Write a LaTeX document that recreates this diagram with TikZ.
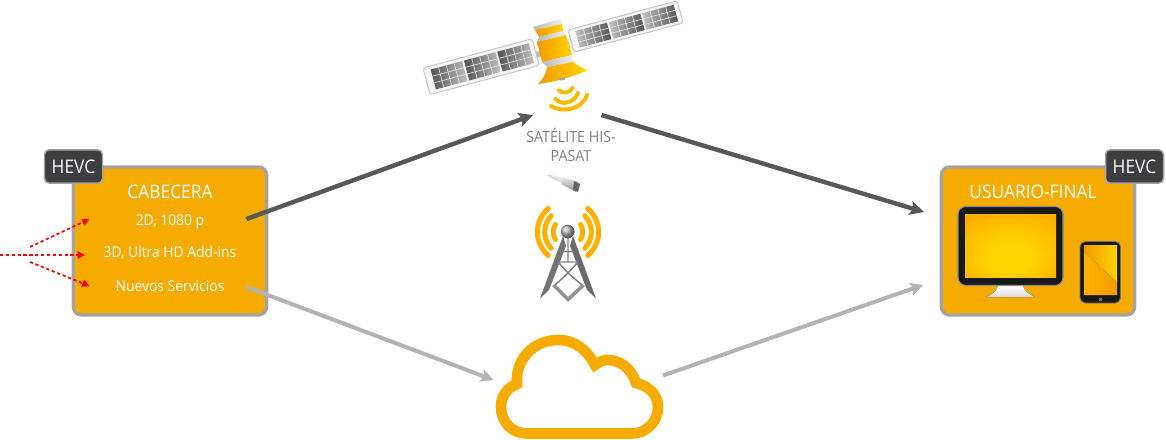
\documentclass[tikz,border=0pt]{standalone}
\usepackage{fontspec}
\setmainfont[FakeStretch=0.93]{Open Sans}
\usetikzlibrary{arrows.meta,calc}
\definecolor{boxorange}{HTML}{F6AB00}
\definecolor{boxedge}{HTML}{A3A3A3}
\definecolor{tabdark}{HTML}{3E3E40}
\definecolor{darkarrow}{HTML}{58585A}
\definecolor{lightarrow}{HTML}{B3B3B3}
\definecolor{capgray}{HTML}{7F7F7F}
\definecolor{goldA}{HTML}{F29A00}
\definecolor{goldB}{HTML}{FFD400}
\definecolor{goldC}{HTML}{FFB400}
\definecolor{sigTop}{HTML}{FFB000}
\definecolor{sigMid}{HTML}{F39400}
\pgfdeclareradialshading{screenglow}{\pgfpoint{0bp}{-14bp}}{color(0bp)=(goldB); color(12bp)=(goldB); color(32bp)=(goldC); color(50bp)=(goldA)}
\tikzset{
  mainbox/.style={draw=boxedge,line width=2.4pt,fill=boxorange,rounded corners=6pt,minimum width=145pt,minimum height=111pt,inner sep=0pt,outer sep=0pt},
  tab/.style={draw=boxedge,line width=1.1pt,fill=tabdark,rounded corners=3.5pt,minimum width=43.5pt,minimum height=25pt,inner sep=0pt,text=white,font=\fontsize{14}{16}\selectfont},
  title/.style={text=white,inner sep=0pt,anchor=base,font=\fontsize{14}{16}\selectfont},
  item/.style={text=white,inner sep=0pt,anchor=base,font=\fontsize{11.2}{13}\selectfont},
  caption/.style={text=capgray,inner sep=0pt,align=center,font=\fontsize{11.5}{14.25}\selectfont},
  darklink/.style={draw=darkarrow,line width=3.3pt,-{Stealth[length=10.5pt,width=10.5pt,inset=2pt]}},
  lightlink/.style={draw=lightarrow,line width=3pt,-{Stealth[length=9.5pt,width=9.5pt,inset=2pt]}},
  redlink/.style={draw=red,line width=1.3pt,dash pattern=on 2.4pt off 2pt,-{Triangle[length=5.5pt,width=5.5pt]}},
  wave/.style={draw=boxorange!85!yellow,line width=3pt,line cap=round},
  cloudline/.style={draw=boxorange,line width=8pt,line join=miter,miter limit=10},
  lattice/.style={draw=black!50,line width=1.1pt,line join=round}
}
% solar panel: #1 origin, #2 height, #3 left colour, #4 right colour, #5 cell inset
\newcommand{\solarpanel}[5]{%
  \begin{scope}[shift={#1},rotate=15]
    \draw[draw=black!22,line width=.8pt,fill=black!4,rounded corners=2pt] (0,0) rectangle (113,#2);
    \foreach \gx in {7,41.5,76}{
      \shade[left color=#3,right color=#4] (\gx,#5) rectangle ++(32.5,{#2-2*#5});
      \foreach \i in {1,2,3}
        \draw[black!12,line width=.5pt] ({\gx+\i*8.1},#5) -- ++(0,{#2-2*#5});
      \foreach \i in {1,2}
        \draw[black!12,line width=.5pt] (\gx,{#5+\i*(#2-2*#5)/3}) -- ++(32.5,0);
    }
  \end{scope}}
% signal arc pair round the mast: #1 half span in degrees, #2 radius in pt
\newcommand{\signalpair}[2]{%
  \shade[top color=sigTop,middle color=sigMid,bottom color=sigTop]
    ($(568,232)+(#1:#2pt+1.9pt)$) arc[start angle=#1,end angle=-#1,radius=#2pt+1.9pt]
    arc[start angle=-#1,delta angle=-180,radius=1.9pt]
    arc[start angle=-#1,end angle=#1,radius=#2pt-1.9pt]
    arc[start angle=#1+180,delta angle=-180,radius=1.9pt] -- cycle;
  \shade[top color=sigTop,middle color=sigMid,bottom color=sigTop]
    ($(568,232)+(180-#1:#2pt+1.9pt)$) arc[start angle=180-#1,end angle=180+#1,radius=#2pt+1.9pt]
    arc[start angle=180+#1,delta angle=180,radius=1.9pt]
    arc[start angle=180+#1,end angle=180-#1,radius=#2pt-1.9pt]
    arc[start angle=-#1,delta angle=180,radius=1.9pt] -- cycle;}
\begin{document}
\begin{tikzpicture}[x=.75pt,y=-.75pt]
\useasboundingbox (0,0) rectangle (1166,439);
% ---- main boxes
\node[mainbox] (cab) at (170,241) {};
\node[tab] (hevcL) at (73.5,166.5) {HEVC};
\node[mainbox] (usr) at (1038,241) {};
\node[tab] (hevcR) at (1134.5,166.5) {HEVC};
\node[title] (cabT) at (170,198) {CABECERA};
\node[item] (i1) at (170,225) {2D, 1080 p};
\node[item] (i2) at (170,257.7) {3D, Ultra HD Add-ins};
\node[item] (i3) at (170,291) {Nuevos Servicios};
\node[title] (usrT) at (1033,198) {USUARIO-FINAL};
% ---- monitor
\fill[top color=white,bottom color=black!15] (998,286) -- (1023,286) .. controls (1024,291) and (1030,295) .. (1035,297) -- (986,297) .. controls (991,295) and (997,291) .. (998,286) -- cycle;
\draw[draw=black!45,line width=.8pt,fill=black!90,rounded corners=6pt] (958,206.5) rectangle (1063,285.5);
\shade[shading=screenglow] (965,214) rectangle (1056,277);
% ---- tablet
\draw[draw=black!55,line width=.7pt,fill=black!90,rounded corners=4pt] (1080,241.5) rectangle (1120.5,303);
\shade[left color=goldA,right color=goldB] (1084,245) -- (1117,245) -- (1117,282) -- (1084,252) -- cycle;
\shade[left color=goldC,right color=goldA] (1084,252) -- (1117,282) -- (1117,295) -- (1084,295) -- cycle;
\fill[black!60] (1100.5,299.5) circle[radius=2];
% ---- satellite
\solarpanel{(423,68)}{27.5}{black!68}{black!24}{3.5}
\solarpanel{(568,30)}{23}{black!24}{black!68}{3}
\fill[black!25] (536,52) -- (543,50) -- (543,56) -- (537,58) -- cycle;
\fill[black!25] (561,44) -- (569,42) -- (570,48) -- (563,50) -- cycle;
\shade[left color=black!28,right color=black!6] (533,27) -- (560,19) -- (562,24) -- (535,30) -- cycle;
\shade[left color=goldA,right color=goldB] (535,30) -- (562,24) -- (563,31) -- (539,37) -- cycle;
\shade[left color=black!28,right color=black!6] (539,37) -- (563,31) -- (566,35) -- (537,42) -- cycle;
\shade[left color=goldA,right color=goldB] (537,42) -- (566,35) -- (572,55) -- (542,62) -- cycle;
\shade[left color=black!28,right color=black!6] (542,62) -- (572,55) -- (573,62) -- (547,67) -- cycle;
\shade[left color=goldA,right color=goldB] (547,67) -- (573,62) .. controls (578,66) and (583,68) .. (587,70.5) .. controls (572,77) and (555,82) .. (538,84) .. controls (543,79) and (546,74) .. (547,67) -- cycle;
\fill[black!35] (559,78.5) -- (565,77) -- (565,80) -- (560,80.5) -- cycle;
% ---- dish waves
\draw[wave] (559,90.5) .. controls (563,94) and (570,93) .. (572.5,88);
\draw[wave] (555.5,99) .. controls (562,106) and (574,103) .. (578,93);
\draw[wave] (551,106) .. controls (562,113) and (582,110) .. (587,95);
\node[caption] (satT) at (571,145) {SATÉLITE HIS-\\PASAT};
% ---- cable connector
\shade[left color=white,right color=black!30,shading angle=-25] (547,174.5) -- (566,178) -- (564,184) -- (549,177) -- cycle;
\shade[top color=black!8,bottom color=black!45] (564,177) -- (578,182) -- (576,192) -- (561,184) -- cycle;
\fill[black!60] (574,181) -- (580,184) -- (578,192) -- (573,190) -- cycle;
% ---- tower
\signalpair{31}{11}
\signalpair{44}{17.5}
\signalpair{50}{23}
\fill[black!55] (563,236) -- (540,298.5) -- (549,290) -- (566,246) -- cycle;
\fill[black!58] (573,236) -- (596,298.5) -- (587,290) -- (570,246) -- cycle;
\draw[lattice] (561.5,251.7) -- (574.5,251.7) (558,262) -- (578,262) (558,262) -- (568,273) -- (578,262) (568,238) -- (568,262);
\draw[lattice] (568,273) -- (555,285) (568,273) -- (582,285);
\fill[black!42] (552,286) -- (568,302) -- (585,286) -- (582,284) -- (568,297) -- (555,284) -- cycle;
\shade[ball color=black!30] (567.7,231.5) circle[radius=6.8];
% ---- cloud
\draw[cloudline] (517,384) .. controls (515,360) and (533,340) .. (558,340) .. controls (575,340) and (587,350) .. (595,365) .. controls (599,362) and (603,360) .. (608,360) .. controls (620,360) and (632,369) .. (636,383) .. controls (650,386) and (658,396) .. (658,407) .. controls (658,422) and (646,433.5) .. (632,433.5) -- (527,433.5) .. controls (512,433.5) and (501,422) .. (501,407) .. controls (501,396) and (507,388) .. (517,384) -- cycle;
% ---- connectors
\coordinate (a1s) at (246.5,219);
\coordinate (a1e) at (533,115);
\coordinate (a2s) at (601.5,115);
\coordinate (a2e) at (924,212);
\coordinate (a3s) at (246.5,287);
\coordinate (a3e) at (493.5,380);
\coordinate (a4s) at (663,375.5);
\coordinate (a4e) at (923,285);
\draw[darklink] (a1s) -- (a1e);
\draw[darklink] (a2s) -- (a2e);
\draw[lightlink] (a3s) -- (a3e);
\draw[lightlink] (a4s) -- (a4e);
\coordinate (r0) at (0,255);
\coordinate (r1) at (85,255);
\coordinate (r2s) at (30,247);
\coordinate (r2e) at (89.5,219);
\coordinate (r3s) at (30,262);
\coordinate (r3e) at (89.5,286);
\draw[redlink] (r0) -- (r1);
\draw[redlink] (r2s) -- (r2e);
\draw[redlink] (r3s) -- (r3e);
\end{tikzpicture}
\end{document}
